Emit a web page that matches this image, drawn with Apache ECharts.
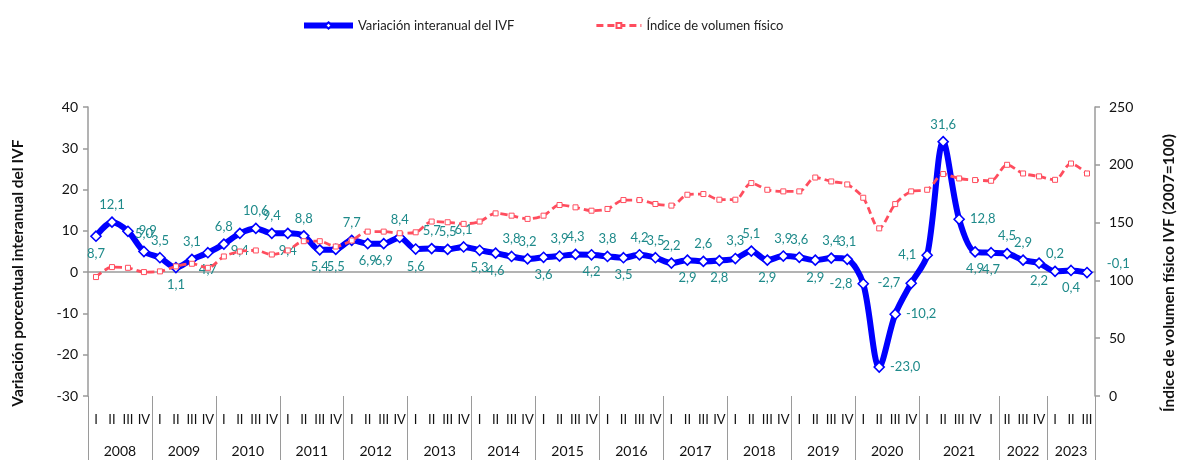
<!DOCTYPE html>
<html lang="es">
<head>
<meta charset="utf-8"/>
<title>IVF</title>
<script src="https://cdn.jsdelivr.net/npm/echarts@6/dist/echarts.min.js"></script>
<style>
    html, body { margin: 0; padding: 0; background: #fff; }
    #chart { width: 1178px; height: 460px; }
</style>
</head>
<body>
<div id="chart"></div>
<script>
    // trimestres 2008-I a 2023-III
    var quarters = [
        'I','II','III','IV', 'I','II','III','IV', 'I','II','III','IV', 'I','II','III','IV',
        'I','II','III','IV', 'I','II','III','IV', 'I','II','III','IV', 'I','II','III','IV',
        'I','II','III','IV', 'I','II','III','IV', 'I','II','III','IV', 'I','II','III','IV',
        'I','II','III','IV', 'I','II','III','IV', 'I','II','III','IV', 'I','II','III'
    ];
    var years = ['2008','2009','2010','2011','2012','2013','2014','2015','2016','2017','2018','2019','2020','2021','2022','2023'];
    var yearSpans = [4,4,4,4,4,4,4,4,4,4,4,4,4,5,3,3];

    // variacion interanual del IVF (%)
    var variacion = [
        8.7,12.1,9.9,5.0,3.5,1.1,3.1,4.7,6.8,9.4,10.6,9.4,9.4,8.8,5.4,5.5,7.7,6.9,6.9,8.4,
        5.6,5.7,5.5,6.1,5.3,4.6,3.8,3.2,3.6,3.9,4.3,4.2,3.8,3.5,4.2,3.5,2.2,2.9,2.6,2.8,
        3.3,5.1,2.9,3.9,3.6,2.9,3.4,3.1,-2.8,-23.0,-10.2,-2.7,4.1,31.6,12.8,4.9,4.7,4.5,2.9,2.2,0.2,0.4,-0.1
    ];
    // indice de volumen fisico (2007=100)
    var indice = [
        102.9,111.5,110.9,107.2,107.8,112.1,114.4,110.9,120.7,125.0,125.9,122.4,125.9,133.9,133.9,129.3,134.5,142.2,142.2,140.8,
        141.6,150.9,150.3,148.9,150.9,158.0,156.0,153.2,156.0,165.2,163.2,160.3,161.8,169.5,169.5,166.1,164.7,174.1,174.7,169.8,
        169.8,184.2,178.4,177.0,177.0,189.0,185.6,183.0,171.5,145.0,166.0,177.0,178.4,192.0,188.2,186.8,186.2,200.0,192.5,190.0,187.0,201.1,192.5
    ];

    // posicion de etiquetas (estilo, no datos)
    var labelPos = 'btrttbtbtbttbtbbtbbt' + 'btttbbttbttbtbtttbtb' + 'ttbttbttlrrlltrbbttbtbr';
    var posName = {t: 'top', b: 'bottom', l: 'left', r: 'right'};

    var yearEdges = [0], yearCenters = [];
    for (var i = 0; i < yearSpans.length; i++) {
        yearCenters.push(yearEdges[i] + yearSpans[i] / 2);
        yearEdges.push(yearEdges[i] + yearSpans[i]);
    }

    function fmt(v) {
        return v.toFixed(1).replace('.', ',');
    }

    var varData = [];
    for (var i = 0; i < variacion.length; i++) {
        var lab = {position: posName[labelPos.charAt(i)]};
        if (i === variacion.length - 1) {
            // la ultima etiqueta cae fuera del eje derecho
            lab.distance = 14;
            lab.offset = [0, -9];
        }
        varData.push({value: variacion[i], label: lab});
    }

    var FONT = 'Lato, "Open Sans", sans-serif';
    var GREY = '#9a9a9a';

    var myChart = echarts.init(document.getElementById('chart'));
    var option = {
        animation: false,
        textStyle: {fontFamily: FONT},
        grid: {left: 88, right: 83, top: 107, bottom: 64},
        legend: [{
            data: ['Variación interanual del IVF'],
            left: 296, top: 14,
            itemWidth: 49, itemHeight: 8,
            lineStyle: {width: 6},
            textStyle: {fontSize: 13, color: '#222', fontFamily: FONT}
        }, {
            data: ['Índice de volumen físico'],
            left: 590, top: 14,
            itemWidth: 45, itemHeight: 6,
            lineStyle: {width: 2.8},
            textStyle: {fontSize: 13, color: '#222', fontFamily: FONT}
        }],
        xAxis: [{
            // linea del cero con marcas
            type: 'category', data: quarters,
            axisLine: {onZero: true, onZeroAxisIndex: 0, lineStyle: {color: GREY, width: 1.5}},
            axisTick: {interval: 0, length: 5, lineStyle: {color: GREY, width: 1.5}},
            axisLabel: {show: false}
        }, {
            type: 'category', data: quarters,
            axisLine: {show: false, onZero: true, onZeroAxisIndex: 0},
            axisTick: {inside: true, interval: 0, length: 5, lineStyle: {color: GREY, width: 1.5}},
            axisLabel: {show: false}
        }, {
            // trimestres abajo
            type: 'category', data: quarters, position: 'bottom',
            axisLine: {show: false, onZero: false},
            axisTick: {interval: 0, length: 37, lineStyle: {color: GREY}},
            axisLabel: {interval: 0, margin: 17, fontSize: 13, color: '#111', fontFamily: FONT}
        }, {
            // anios
            type: 'value', min: 0, max: 63, position: 'bottom',
            axisLine: {show: false, onZero: false},
            splitLine: {show: false},
            axisTick: {show: true, customValues: yearEdges, length: 64, lineStyle: {color: GREY}},
            axisLabel: {
                customValues: yearCenters, margin: 48, fontSize: 14, color: '#111', fontFamily: FONT,
                formatter: function (v) {
                    var k = yearCenters.indexOf(v);
                    return k >= 0 ? years[k] : '';
                }
            }
        }],
        yAxis: [{
            type: 'value', min: -30, max: 40, interval: 10,
            axisLine: {show: true, onZero: false, lineStyle: {color: GREY, width: 1.5}},
            axisTick: {show: true, length: 5, lineStyle: {color: GREY, width: 1.5}},
            splitLine: {show: false},
            axisLabel: {fontSize: 14, color: '#111', margin: 10, fontFamily: FONT}
        }, {
            type: 'value', min: 0, max: 250, interval: 50, position: 'right',
            axisLine: {show: true, onZero: false, lineStyle: {color: GREY, width: 1.5}},
            axisTick: {show: true, length: 5, lineStyle: {color: GREY, width: 1.5}},
            splitLine: {show: false},
            axisLabel: {fontSize: 14, color: '#111', margin: 14, fontFamily: FONT}
        }],
        graphic: [{
            type: 'text', x: 18, y: 273, rotation: Math.PI / 2,
            style: {
                text: 'Variación porcentual interanual del IVF',
                font: 'bold 15.5px ' + FONT, fill: '#111',
                align: 'center', verticalAlign: 'middle'
            }
        }, {
            type: 'text', x: 1169, y: 273, rotation: Math.PI / 2,
            style: {
                text: 'Índice de volumen físico IVF (2007=100)',
                font: 'bold 15.5px ' + FONT, fill: '#111',
                align: 'center', verticalAlign: 'middle'
            }
        }],
        series: [{
            name: 'Variación interanual del IVF',
            type: 'line',
            xAxisIndex: 0, yAxisIndex: 0,
            data: varData,
            smooth: 0.3,
            symbol: 'diamond', symbolSize: 10,
            lineStyle: {color: '#0000ff', width: 6},
            itemStyle: {color: '#ffffff', borderColor: '#0000ff', borderWidth: 1.6},
            label: {
                show: true, fontSize: 13, color: '#1e8a8a', distance: 5, fontFamily: FONT,
                formatter: function (p) { return fmt(p.value); }
            },
            z: 3
        }, {
            name: 'Índice de volumen físico',
            type: 'line',
            xAxisIndex: 0, yAxisIndex: 1,
            data: indice,
            smooth: 0.3,
            symbol: 'rect', symbolSize: 5,
            lineStyle: {color: '#ff4d5e', width: 2.8, type: [7, 4]},
            itemStyle: {color: '#ffffff', borderColor: '#ff4d5e', borderWidth: 1},
            z: 4
        }]
    };
    myChart.setOption(option);

    window.onresize = function () {
        myChart.resize();
    };
</script>
</body>
</html>
